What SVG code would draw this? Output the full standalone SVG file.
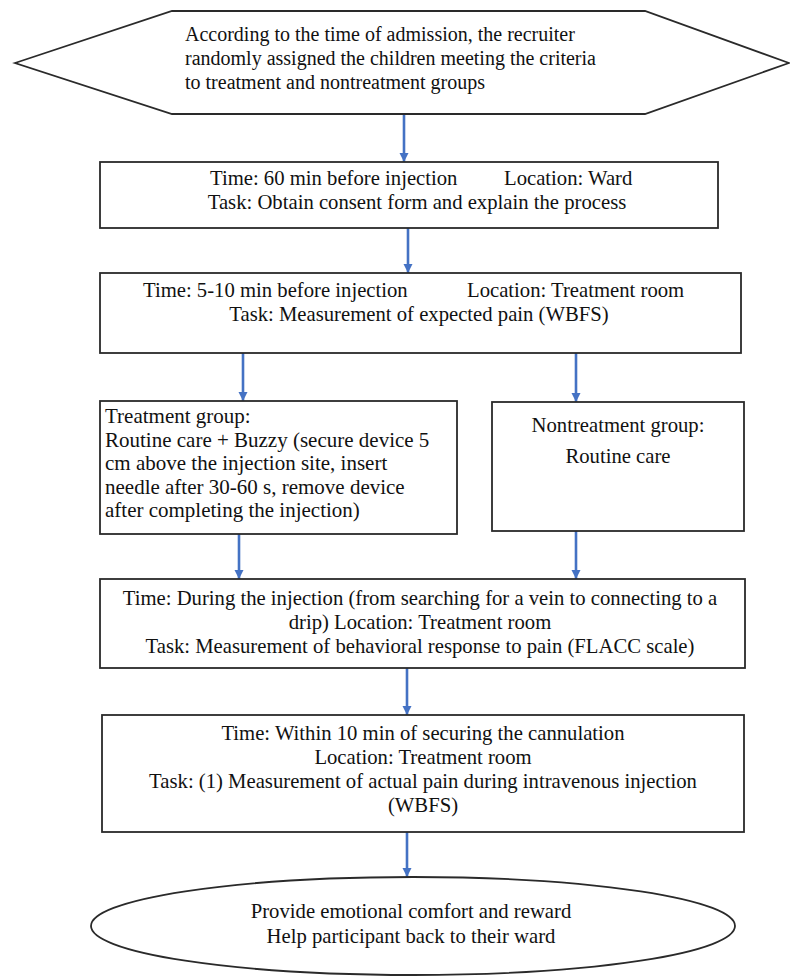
<svg xmlns="http://www.w3.org/2000/svg" width="790" height="976" viewBox="0 0 790 976">
<style>
.sh{fill:#fff;stroke:#2a2a2a;stroke-width:1.8}
.t{font-family:"Liberation Serif","Times New Roman",serif;font-size:20.7px;fill:#111}
.h{font-size:20px}
.g{font-size:21px}
.c{text-anchor:middle}
.ln{stroke:#4472C4;stroke-width:2.6;fill:none}
</style>
<defs>
<marker id="ah" markerUnits="userSpaceOnUse" markerWidth="10" markerHeight="10" refX="9" refY="5" orient="auto">
<path d="M0,0.5 L9,5 L0,9.5 z" fill="#4472C4"/>
</marker>
</defs>
<rect width="790" height="976" fill="#fff"/>
<g id="connectors">
<line class="ln" x1="404" y1="114" x2="404" y2="162" marker-end="url(#ah)"/>
<line class="ln" x1="408" y1="228" x2="408" y2="273" marker-end="url(#ah)"/>
<line class="ln" x1="243" y1="353" x2="243" y2="401" marker-end="url(#ah)"/>
<line class="ln" x1="576" y1="353" x2="576" y2="402" marker-end="url(#ah)"/>
<line class="ln" x1="239" y1="534" x2="239" y2="579" marker-end="url(#ah)"/>
<line class="ln" x1="576" y1="531" x2="576" y2="579" marker-end="url(#ah)"/>
<line class="ln" x1="407" y1="668" x2="407" y2="715" marker-end="url(#ah)"/>
<line class="ln" x1="407" y1="832" x2="407" y2="877" marker-end="url(#ah)"/>
</g>
<g id="start">
<polygon class="sh" points="15,63 172,11 645,11 789,63 645,114 172,114"/>
<text class="t h" x="185" y="41">According to the time of admission, the recruiter</text>
<text class="t h" x="185" y="65">randomly assigned the children meeting the criteria</text>
<text class="t h" x="185" y="89">to treatment and nontreatment groups</text>
</g>
<g id="step1">
<rect class="sh" x="100" y="162" width="618" height="66"/>
<text class="t" x="210" y="185">Time: 60 min before injection</text>
<text class="t" x="504" y="185">Location: Ward</text>
<text class="t c" x="417" y="209">Task: Obtain consent form and explain the process</text>
</g>
<g id="step2">
<rect class="sh" x="100" y="273" width="641" height="80"/>
<text class="t" x="143" y="297">Time: 5-10 min before injection</text>
<text class="t" x="467" y="297">Location: Treatment room</text>
<text class="t c" x="419" y="321">Task: Measurement of expected pain (WBFS)</text>
</g>
<g id="treatment">
<rect class="sh" x="100" y="401" width="357" height="133"/>
<text class="t g" x="105" y="423">Treatment group:</text>
<text class="t g" x="105" y="446.5">Routine care + Buzzy (secure device 5</text>
<text class="t g" x="105" y="470">cm above the injection site, insert</text>
<text class="t g" x="105" y="493.5">needle after 30-60 s, remove device</text>
<text class="t g" x="105" y="517">after completing the injection)</text>
</g>
<g id="nontreatment">
<rect class="sh" x="492" y="402" width="252" height="129"/>
<text class="t c" x="618" y="432">Nontreatment group:</text>
<text class="t c" x="618" y="463">Routine care</text>
</g>
<g id="step3">
<rect class="sh" x="100" y="579" width="645" height="89"/>
<text class="t c" x="420" y="605">Time: During the injection (from searching for a vein to connecting to a</text>
<text class="t c" x="420" y="629">drip) Location: Treatment room</text>
<text class="t c" x="420" y="653">Task: Measurement of behavioral response to pain (FLACC scale)</text>
</g>
<g id="step4">
<rect class="sh" x="102" y="715" width="642" height="117"/>
<text class="t c" x="423" y="740">Time: Within 10 min of securing the cannulation</text>
<text class="t c" x="423" y="764">Location: Treatment room</text>
<text class="t c" x="423" y="788">Task: (1) Measurement of actual pain during intravenous injection</text>
<text class="t c" x="423" y="812">(WBFS)</text>
</g>
<g id="end">
<ellipse class="sh" cx="413" cy="926" rx="322" ry="49"/>
<text class="t c" x="411" y="918">Provide emotional comfort and reward</text>
<text class="t c" x="411" y="943">Help participant back to their ward</text>
</g>
</svg>
